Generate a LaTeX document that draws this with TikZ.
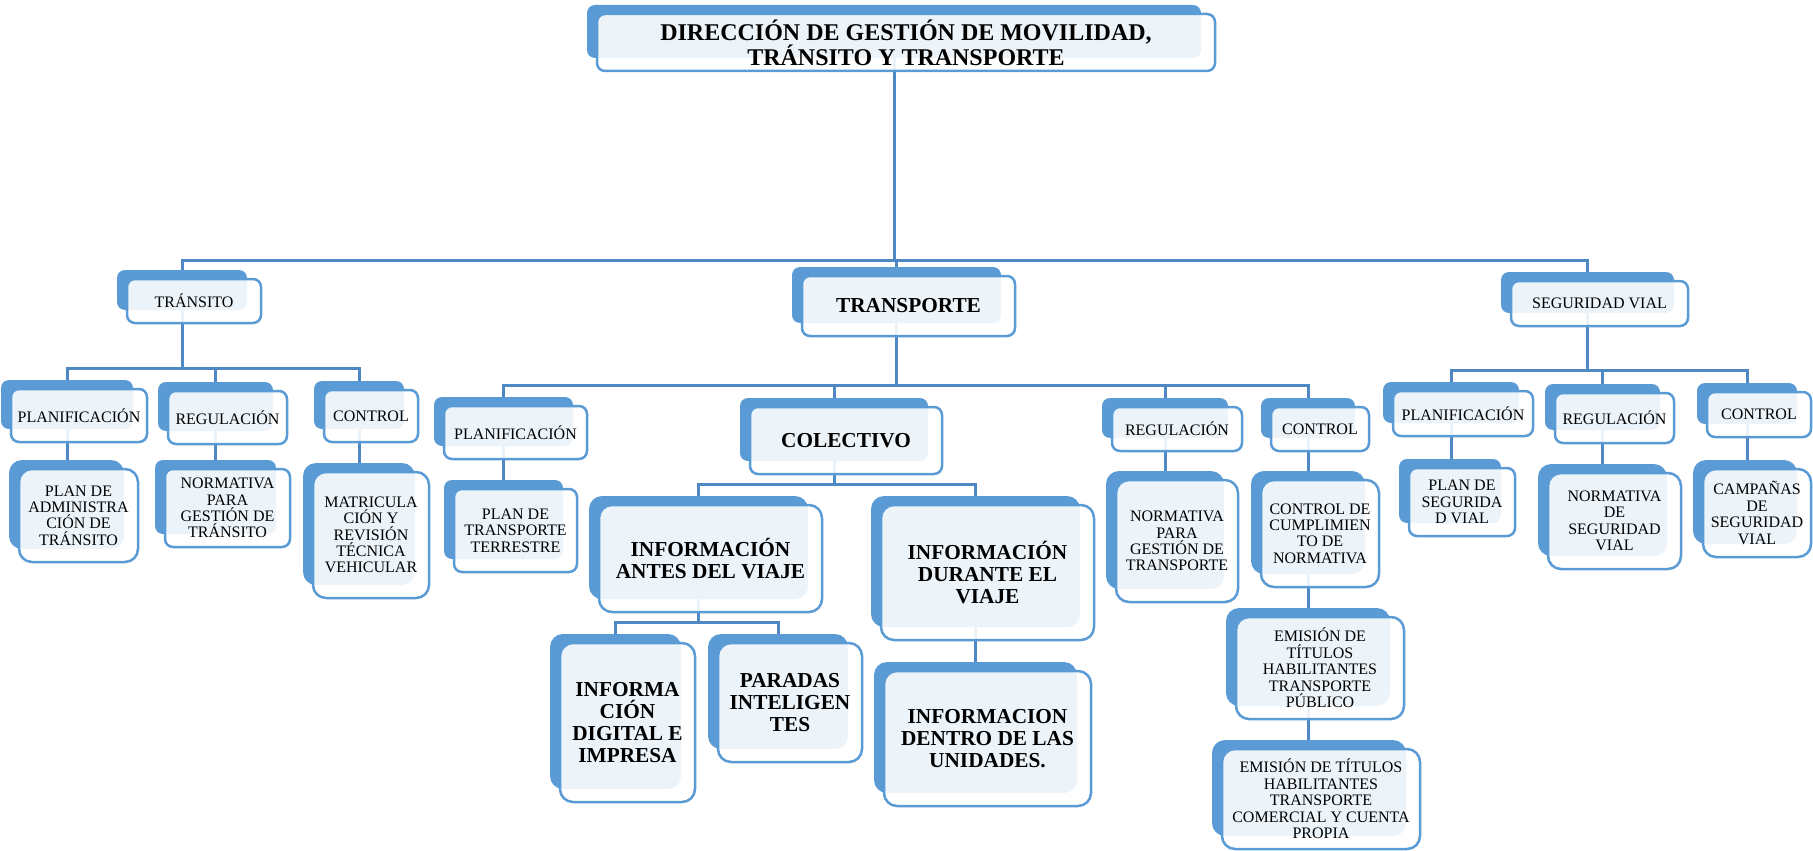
\documentclass[tikz,border=0pt]{standalone}
\usepackage{fontspec}
\setmainfont{Liberation Serif}
\definecolor{bluefill}{HTML}{5B9BD5}
\definecolor{blueline}{HTML}{5B9BD5}
\definecolor{connblue}{HTML}{4F89C5}
\pgfdeclarelayer{bg}
\pgfdeclarelayer{mid}
\pgfsetlayers{bg,mid,main}
\tikzset{
  front/.style={rectangle, draw=blueline, line width=2.5pt, fill=white, fill opacity=0.89,
    text opacity=1, draw opacity=1, inner sep=0pt, align=center},
  back/.style={rectangle, fill=bluefill, draw=none, inner sep=0pt},
  sm/.style={rounded corners=8pt},
  lg/.style={rounded corners=13pt},
  reg/.style={font=\fontsize{16}{16.4}\selectfont},
  bld/.style={font=\bfseries\fontsize{21.3}{22.3}\selectfont},
  ttl/.style={font=\bfseries\fontsize{24}{25}\selectfont},
  conn/.style={draw=connblue, line width=3pt, line join=miter},
}
\newcommand\obox[7]{%
  \node[front,#6,minimum width={#4-#2},minimum height={#5-#3}] (#1) at ({(#2+#4)/2},{(#3+#5)/2}) {#7};
  \begin{pgfonlayer}{mid}
    \node[back,#6,minimum width={#4-#2-4},minimum height={#5-#3-4}] (#1b) at ({(#2+#4)/2-12},{(#3+#5)/2-11}) {};
  \end{pgfonlayer}
}
\begin{document}
\begin{tikzpicture}[x=1pt,y=-1pt]
\useasboundingbox (0,0) rectangle (1813,851);

\obox{T}{597}{14}{1215}{71}{ttl,sm}{DIRECCIÓN DE GESTIÓN DE MOVILIDAD,\\TRÁNSITO Y TRANSPORTE}
\obox{TRA}{127}{279}{261}{323}{reg,sm}{TRÁNSITO}
\obox{TRAN}{802}{276}{1015}{336}{bld,sm}{TRANSPORTE}
\obox{SV}{1511}{281}{1688}{326}{reg,sm}{SEGURIDAD VIAL}
\obox{PT}{11}{389}{147}{442}{reg,sm}{PLANIFICACIÓN}
\obox{RT}{168}{391}{287}{444}{reg,sm}{REGULACIÓN}
\obox{CT}{324}{390}{418}{442}{reg,sm}{CONTROL}
\obox{PAT}{19}{469}{138}{562}{reg,lg}{PLAN DE\\ADMINISTRA\\CIÓN DE\\TRÁNSITO}
\obox{NT}{165}{469}{290}{547}{reg,sm}{NORMATIVA\\PARA\\GESTIÓN DE\\TRÁNSITO}
\obox{MAT}{313}{472}{429}{598}{reg,lg}{MATRICULA\\CIÓN Y\\REVISIÓN\\TÉCNICA\\VEHICULAR}
\obox{PTR}{444}{406}{587}{459}{reg,sm}{PLANIFICACIÓN}
\obox{PTT}{454}{489}{577}{572}{reg,sm}{PLAN DE\\TRANSPORTE\\TERRESTRE}
\obox{COL}{750}{407}{942}{474}{bld,sm}{COLECTIVO}
\obox{ANT}{599}{505}{822}{612}{bld,lg}{INFORMACIÓN\\ANTES DEL VIAJE}
\obox{DUR}{881}{505}{1094}{640}{bld,lg}{INFORMACIÓN\\DURANTE EL\\VIAJE}
\obox{DIG}{560}{643}{695}{802}{bld,lg}{INFORMA\\CIÓN\\DIGITAL E\\IMPRESA}
\obox{PAR}{718}{643}{862}{762}{bld,lg}{PARADAS\\INTELIGEN\\TES}
\obox{DEN}{884}{671}{1091}{806}{bld,lg}{INFORMACION\\DENTRO DE LAS\\UNIDADES.}
\obox{RTR}{1112}{407}{1242}{451}{reg,sm}{REGULACIÓN}
\obox{CTR}{1271}{407}{1369}{451}{reg,sm}{CONTROL}
\obox{NTR}{1116}{480}{1238}{602}{reg,lg}{NORMATIVA\\PARA\\GESTIÓN DE\\TRANSPORTE}
\obox{CUM}{1261}{480}{1379}{587}{reg,lg}{CONTROL DE\\CUMPLIMIEN\\TO DE\\NORMATIVA}
\obox{PUB}{1236}{617}{1404}{719}{reg,lg}{EMISIÓN DE\\TÍTULOS\\HABILITANTES\\TRANSPORTE\\PÚBLICO}
\obox{COM}{1222}{749}{1420}{849}{reg,lg}{EMISIÓN DE TÍTULOS\\HABILITANTES\\TRANSPORTE\\COMERCIAL Y CUENTA\\PROPIA}
\obox{PSV}{1393}{391}{1533}{436}{reg,sm}{PLANIFICACIÓN}
\obox{RSV}{1555}{393}{1674}{443}{reg,sm}{REGULACIÓN}
\obox{CSV}{1707}{392}{1811}{437}{reg,sm}{CONTROL}
\obox{PLSV}{1409}{468}{1515}{536}{reg,sm}{PLAN DE\\SEGURIDA\\D VIAL}
\obox{NSV}{1548}{473}{1681}{569}{reg,lg}{NORMATIVA\\DE\\SEGURIDAD\\VIAL}
\obox{CAM}{1703}{469}{1811}{557}{reg,lg}{CAMPAÑAS\\DE\\SEGURIDAD\\VIAL}

\coordinate (y0) at (0,260);
\coordinate (y1) at (0,368);
\coordinate (y2) at (0,385);
\coordinate (y3) at (0,484);
\coordinate (y4) at (0,622);
\coordinate (y5) at (0,370);

\begin{pgfonlayer}{bg}
  % top level
  \draw[conn] (Tb) -- (Tb |- y0);
  \draw[conn] (TRAb) -- (TRAb |- y0) -- (SVb |- y0) -- (SVb);
  \draw[conn] (TRANb |- y0) -- (TRANb);
  % transito
  \draw[conn] (TRAb) -- (TRAb |- y1);
  \draw[conn] (PTb) -- (PTb |- y1) -- (CTb |- y1) -- (CTb);
  \draw[conn] (RTb |- y1) -- (RTb);
  \draw[conn] (PTb) -- (PTb |- PATb);
  \draw[conn] (RTb) -- (RTb |- NTb);
  \draw[conn] (CTb) -- (CTb |- MATb);
  % transporte
  \draw[conn] (TRANb) -- (TRANb |- y2);
  \draw[conn] (PTRb) -- (PTRb |- y2) -- (CTRb |- y2) -- (CTRb);
  \draw[conn] (COLb |- y2) -- (COLb);
  \draw[conn] (RTRb |- y2) -- (RTRb);
  \draw[conn] (PTRb) -- (PTRb |- PTTb);
  \draw[conn] (RTRb) -- (RTRb |- NTRb);
  \draw[conn] (CTRb) -- (CTRb |- CUMb) -- (CTRb |- PUBb) -- (CTRb |- COMb);
  % colectivo
  \draw[conn] (COLb) -- (COLb |- y3);
  \draw[conn] (ANTb) -- (ANTb |- y3) -- (DURb |- y3) -- (DURb);
  \draw[conn] (ANTb) -- (ANTb |- y4);
  \draw[conn] (DIGb) -- (DIGb |- y4) -- (PARb |- y4) -- (PARb);
  \draw[conn] (DURb) -- (DURb |- DENb);
  % seguridad vial
  \draw[conn] (SVb) -- (SVb |- y5);
  \draw[conn] (PSVb) -- (PSVb |- y5) -- (CSVb |- y5) -- (CSVb);
  \draw[conn] (RSVb |- y5) -- (RSVb);
  \draw[conn] (PSVb) -- (PSVb |- PLSVb);
  \draw[conn] (RSVb) -- (RSVb |- NSVb);
  \draw[conn] (CSVb) -- (CSVb |- CAMb);
\end{pgfonlayer}
\end{tikzpicture}
\end{document}
